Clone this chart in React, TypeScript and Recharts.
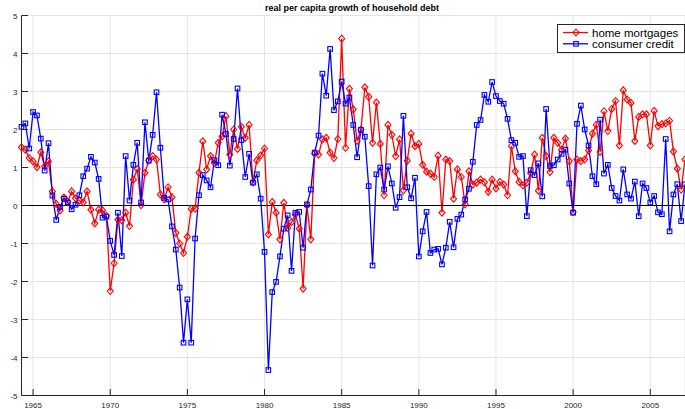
import { CartesianGrid, Line, LineChart, ReferenceLine, XAxis, YAxis } from "recharts";

// quarterly observations, first one is 1964 Q2
const firstQuarter = 1964.25;

const homeMortgages = [
  1.53, 1.47, 1.25, 1.16, 1.01, 1.4, 1.03, 1.16, 0.37, 0.04, -0.13, 0.21, 0.1, 0.37, 0.19, 0.13,
  0.08, 0.37, -0.11, -0.47, -0.11, -0.13, -0.27, -2.25, -1.52, -0.37, -0.39, -0.19, -0.54, 0.68, 0.96, 0.01,
  0.86, 1.19, 1.3, 1.21, 0.29, 0.16, 0.48, 0.22, -0.72, -1.0, -1.25, -0.82, -0.09, -0.08, 0.86, 1.69,
  0.95, 1.3, 1.12, 1.65, 1.82, 2.35, 1.34, 2.0, 1.49, 2.07, 1.78, 2.12, 0.61, 1.19, 1.32, 1.5,
  -0.76, 0.09, -0.19, -0.89, 0.07, -0.59, -0.44, -0.24, -0.61, -2.19, 0.0, -0.89, 1.37, 1.34, 1.74, 1.78,
  1.39, 1.25, 1.75, 4.39, 1.52, 3.07, 2.53, 1.7, 2.0, 3.11, 2.86, 1.65, 2.71, 1.62, 0.27, 2.12,
  1.86, 1.3, 1.74, 0.4, 1.18, 1.89, 1.56, 1.62, 1.07, 0.89, 0.84, 0.75, 1.31, -0.19, 1.21, 1.17,
  0.18, 0.95, 0.75, 0.03, 0.9, 0.55, 0.6, 0.68, 0.61, 0.36, 0.68, 0.45, 0.62, 0.55, 0.27, 1.56,
  0.9, 0.62, 0.53, 0.6, 0.85, 1.34, 0.39, 1.78, 1.3, 0.88, 1.78, 1.65, 1.47, 1.76, 1.17, -0.17,
  1.21, 1.17, 1.21, 1.45, 1.89, 2.12, 1.41, 2.48, 1.96, 2.54, 2.75, 1.58, 3.03, 2.79, 2.7, 1.7,
  2.33, 2.4, 2.4, 1.58, 2.49, 2.09, 2.14, 2.16, 2.23, 1.42, 0.97, 0.42, 1.21,
];

const consumerCredit = [
  2.07, 2.16, 1.5, 2.46, 2.37, 1.76, 0.92, 1.64, 0.26, -0.38, -0.04, 0.18, 0.08, -0.1, 0.02, 0.27,
  0.77, 0.97, 1.28, 1.13, 0.7, -0.32, -0.29, -0.93, -1.3, -0.19, -1.33, 1.3, 0.13, 1.07, 1.65, 0.08,
  2.19, 1.18, 1.86, 2.98, 1.52, 0.2, 0.16, -0.55, -1.16, -2.16, -3.61, -2.47, -3.61, -0.87, 0.27, 0.8,
  0.66, 0.48, 1.19, 1.06, 2.39, 1.88, 1.05, 1.75, 3.08, 1.72, 0.75, 1.36, 0.6, 0.82, 0.18, -1.22,
  -4.33, -2.28, -2.01, -1.34, -0.61, -0.26, -1.72, -0.19, -0.17, -1.11, 0.03, 0.42, 1.39, 1.84, 3.47, 2.89,
  4.12, 2.51, 2.74, 3.26, 2.68, 2.84, 2.12, 1.27, 1.99, 1.81, 0.51, -1.58, 0.82, 1.0, 0.42, 1.03,
  0.58, -0.06, 0.22, 2.36, 0.48, 0.19, 0.73, -1.34, -0.68, -0.17, -1.25, -1.16, -1.14, -1.55, -1.11, -0.43,
  -1.1, -0.35, -0.24, 0.16, 0.44, 1.15, 2.12, 2.25, 2.91, 2.73, 3.25, 2.88, 2.75, 2.68, 2.28, 1.72,
  1.65, 1.28, 1.3, -0.28, 0.93, 0.8, 1.11, 0.24, 2.54, 1.04, 1.06, 1.21, 1.36, 1.47, 0.58, -0.19,
  2.15, 2.63, 2.0, 1.58, 0.77, 0.56, 2.26, 0.84, 1.07, 0.46, 0.25, 0.13, 0.95, 0.29, 0.18, 0.63,
  -0.28, 0.58, 0.46, 0.08, 0.25, -0.18, -0.23, 1.75, -0.68, 0.29, 0.56, -0.41, 0.56,
];

const yearTicks = [1965, 1970, 1975, 1980, 1985, 1990, 1995, 2000, 2005];
const growthTicks = [-5, -4, -3, -2, -1, 0, 1, 2, 3, 4, 5];

const data = homeMortgages.map((mortgages, i) => ({
  year: firstQuarter + i * 0.25,
  mortgages,
  credit: consumerCredit[i],
}));

const RED = "#ff0000";
const BLUE = "#0000ff";
const AXIS = "#262626";
const FONT = "'Liberation Sans', Arial, Helvetica, sans-serif";
const TICK_LEN = 6.5;

const Diamond = (props: any) => {
  const { cx, cy, index } = props;
  if (cx == null || cy == null) return <g key={`m-${index}`} />;
  return (
    <path
      key={`m-${index}`}
      d={`M${cx},${cy - 3.5}L${cx + 3},${cy}L${cx},${cy + 3.5}L${cx - 3},${cy}Z`}
      fill="none"
      stroke={RED}
      strokeWidth={1.1}
    />
  );
};

const Square = (props: any) => {
  const { cx, cy, index } = props;
  if (cx == null || cy == null) return <g key={`c-${index}`} />;
  return (
    <rect
      key={`c-${index}`}
      x={cx - 2.3}
      y={cy - 2.3}
      width={4.6}
      height={4.6}
      fill="none"
      stroke={BLUE}
      strokeWidth={1.1}
    />
  );
};

const BottomTick = ({ x, y, payload }: any) => (
  <g>
    <line x1={x} x2={x} y1={y} y2={y - TICK_LEN} stroke={AXIS} />
    <text x={x} y={y + 12.5} textAnchor="middle" fontSize={8} fontFamily={FONT} fill={AXIS}>
      {payload.value}
    </text>
  </g>
);

const TopTick = ({ x, y }: any) => (
  <line x1={x} x2={x} y1={y} y2={y + TICK_LEN} stroke={AXIS} />
);

const LeftTick = ({ x, y, payload }: any) => (
  <g>
    <line x1={x} x2={x + TICK_LEN} y1={y} y2={y} stroke={AXIS} />
    <text x={x - 4} y={y + 3} textAnchor="end" fontSize={8} fontFamily={FONT} fill={AXIS}>
      {payload.value}
    </text>
  </g>
);

function LegendBox() {
  return (
    <svg
      width={129}
      height={30}
      style={{ position: "absolute", left: 557, top: 24 }}
    >
      <rect x={0.5} y={0.5} width={127} height={28} fill="#fff" stroke={AXIS} />
      <line x1={6} x2={31} y1={8.5} y2={8.5} stroke={RED} strokeWidth={1.3} />
      <Diamond cx={19} cy={8.5} index="legend" />
      <text x={35} y={12.5} fontSize={11.5} fontFamily={FONT} fill="#000">
        home mortgages
      </text>
      <line x1={6} x2={31} y1={19.8} y2={19.8} stroke={BLUE} strokeWidth={1.3} />
      <Square cx={19} cy={19.8} index="legend" />
      <text x={35} y={23.8} fontSize={11.5} fontFamily={FONT} fill="#000">
        consumer credit
      </text>
    </svg>
  );
}

export default function App() {
  return (
    <div
      style={{
        position: "absolute",
        left: 0,
        top: 0,
        width: 685,
        height: 409,
        background: "#fff",
        fontFamily: FONT,
      }}
    >
      <LineChart
        width={685}
        height={409}
        data={data}
        margin={{ top: 15.5, right: 0, bottom: 0, left: 0 }}
      >
        <CartesianGrid stroke="#e4e4e4" strokeWidth={1} />
        <XAxis
          dataKey="year"
          type="number"
          domain={[1964.25, 2007.25]}
          ticks={yearTicks}
          height={13.5}
          tickSize={0}
          tickMargin={0}
          tickLine={false}
          tick={<BottomTick />}
          stroke={AXIS}
          interval={0}
        />
        <XAxis
          xAxisId="top"
          orientation="top"
          dataKey="year"
          type="number"
          domain={[1964.25, 2007.25]}
          ticks={yearTicks}
          height={0}
          tickSize={0}
          tickMargin={0}
          tickLine={false}
          tick={<TopTick />}
          stroke="#555"
          interval={0}
        />
        <YAxis
          type="number"
          domain={[-5, 5]}
          ticks={growthTicks}
          width={21.5}
          tickSize={0}
          tickMargin={0}
          tickLine={false}
          tick={<LeftTick />}
          stroke={AXIS}
          interval={0}
        />
        <Line
          type="linear"
          dataKey="mortgages"
          stroke={RED}
          strokeWidth={1.3}
          dot={Diamond}
          activeDot={false}
          isAnimationActive={false}
        />
        <Line
          type="linear"
          dataKey="credit"
          stroke={BLUE}
          strokeWidth={1.3}
          dot={Square}
          activeDot={false}
          isAnimationActive={false}
        />
        <ReferenceLine y={0} stroke="#000" strokeWidth={1} />
      </LineChart>
      <svg
        width={685}
        height={15}
        style={{ position: "absolute", left: 0, top: 0 }}
      >
        <text
          x={352}
          y={11}
          textAnchor="middle"
          fontSize={9}
          fontWeight="bold"
          fontFamily={FONT}
          fill="#000"
        >
          real per capita growth of household debt
        </text>
      </svg>
      <LegendBox />
    </div>
  );
}
